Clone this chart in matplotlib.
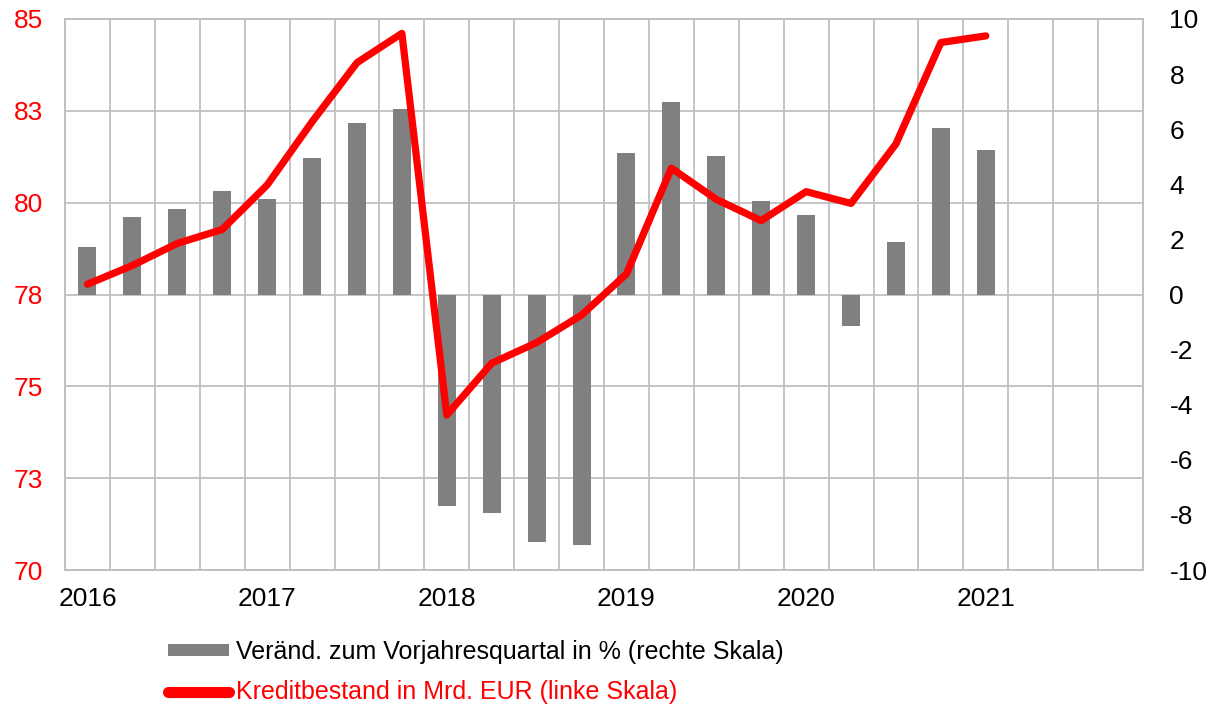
import math
import numpy as np
import matplotlib.pyplot as plt
from matplotlib.patches import Patch
from matplotlib.lines import Line2D
from matplotlib.ticker import FuncFormatter, MultipleLocator

plt.rcParams['font.family'] = ['Liberation Sans', 'DejaVu Sans']
plt.rcParams['axes.unicode_minus'] = False

years = ['2016', '2017', '2018', '2019', '2020', '2021']
n_quarters = 24  # 2016 Q1 .. 2021 Q4

# change vs. same quarter of previous year, % (right scale)
change_pct = [1.74, 2.82, 3.12, 3.77, 3.45, 4.94, 6.24, 6.74,
              -7.68, -7.94, -9.00, -9.09,
              5.12, 6.97, 5.01, 3.38, 2.90, -1.13, 1.89, 6.06, 5.23]
# loan stock, bn EUR (left scale)
loans = [77.78, 78.29, 78.89, 79.27, 80.48, 82.20, 83.81, 84.61,
         74.22, 75.63, 76.19, 76.94,
         78.06, 80.94, 80.09, 79.51, 80.30, 79.98, 81.60, 84.36, 84.54]

lbl_bars = 'Veränd. zum Vorjahresquartal in % (rechte Skala)'
lbl_line = 'Kreditbestand in Mrd. EUR (linke Skala)'

grid_col = '#c0c0c0'
fs = 19

fig = plt.figure(figsize=(12.2, 7.06), dpi=100)
ax = fig.add_axes([65 / 1220, 136 / 706, 1078 / 1220, 551 / 706])
ax_bar = ax.twinx()
ax_line = ax.twinx()

x = np.arange(len(change_pct))

# background axis: left scale, grid
ax.set_xlim(-0.5, n_quarters - 0.5)
ax.set_ylim(70, 85)
ax.yaxis.set_major_locator(MultipleLocator(2.5))
ax.yaxis.set_major_formatter(FuncFormatter(lambda v, _: str(int(math.floor(v + 0.5)))))
ax.set_xticks(np.arange(0, n_quarters, 4))
ax.set_xticklabels(years)
ax.set_xticks(np.arange(-0.5, n_quarters, 1), minor=True)
ax.grid(axis='y', which='major', color=grid_col, lw=1.3)
ax.grid(axis='x', which='minor', color=grid_col, lw=1.3)
ax.tick_params(axis='x', which='both', length=0, labelsize=fs, pad=12)
ax.tick_params(axis='y', length=0, labelsize=fs, labelcolor='#ff0000', pad=16)

# bars on the right scale
ax_bar.bar(x, change_pct, width=0.4, color='#808080', zorder=2)
ax_bar.set_ylim(-10, 10)
ax_bar.set_yticks(np.arange(-10, 11, 2))
ax_bar.tick_params(axis='y', length=0, labelsize=fs, pad=19)

# line on the left scale, drawn on top
ax_line.plot(x, loans, color='#ff0000', lw=5.2,
             solid_capstyle='round', solid_joinstyle='round')
ax_line.set_ylim(70, 85)
ax_line.set_yticks([])

for a in (ax, ax_bar, ax_line):
    for s in a.spines.values():
        s.set_color(grid_col)
        s.set_linewidth(1.3)

handles = [Patch(facecolor='#808080', edgecolor='none'),
           Line2D([0], [0], color='#ff0000', lw=8, solid_capstyle='round')]
fig.legend(handles, [lbl_bars, lbl_line], loc='center left',
           bbox_to_anchor=(168 / 1220, 1 - 672 / 706),
           frameon=False, fontsize=18, labelcolor=['black', '#ff0000'],
           handlelength=2.45, handleheight=0.4, handletextpad=0.28,
           labelspacing=0.65, borderpad=0, borderaxespad=0)

fig.savefig('out.png', dpi=100)
